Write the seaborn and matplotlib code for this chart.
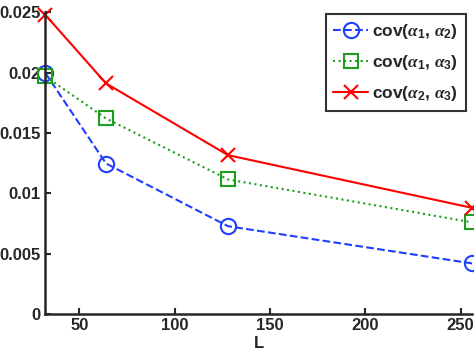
import pandas as pd
import matplotlib
matplotlib.use("Agg")
import matplotlib.pyplot as plt
import seaborn as sns

L = [32, 64, 128, 256]
cov_12 = [0.0200, 0.01247, 0.00728, 0.0042]
cov_13 = [0.0197, 0.0162, 0.01115, 0.0076]
cov_23 = [0.0248, 0.0191, 0.01316, 0.0088]

labels = [r"cov($\alpha_1$, $\alpha_2$)",
          r"cov($\alpha_1$, $\alpha_3$)",
          r"cov($\alpha_2$, $\alpha_3$)"]
y_ticks = [0, 0.005, 0.01, 0.015, 0.02, 0.025]
y_tick_labels = ["0", "0.005", "0.01", "0.015", "0.02", "0.025"]
x_ticks = [50, 100, 150, 200, 250]

sns.set_style("ticks")
plt.rcParams["font.family"] = ["Liberation Sans", "DejaVu Sans"]
plt.rcParams["font.weight"] = "bold"
plt.rcParams["mathtext.fontset"] = "custom"
plt.rcParams["mathtext.rm"] = "Liberation Sans:bold"
plt.rcParams["mathtext.it"] = "Liberation Serif:italic"

df = pd.DataFrame({"L": L * 3,
                   "cov": cov_12 + cov_13 + cov_23,
                   "pair": [labels[0]] * 4 + [labels[1]] * 4 + [labels[2]] * 4})

fig = plt.figure(figsize=(4.74, 3.57), dpi=100)
ax = fig.add_axes([0.095, 0.12, 0.901, 0.846])

styles = {
    labels[0]: dict(color="#1f3fff", ls="--", marker="o", ms=11, mfc="none", mew=1.5),
    labels[1]: dict(color="#1e9e1e", ls=":", marker="s", ms=9.5, mfc="none", mew=1.5),
    labels[2]: dict(color="#ff0000", ls="-", marker="x", ms=10, mew=1.5),
}
for name in labels:
    st = styles[name]
    sns.lineplot(data=df[df["pair"] == name], x="L", y="cov", ax=ax, label=name,
                 color=st["color"], linestyle=st["ls"], linewidth=1.5,
                 marker=st["marker"], markersize=st["ms"],
                 markerfacecolor=st.get("mfc", st["color"]),
                 markeredgecolor=st["color"], markeredgewidth=st["mew"],
                 clip_on=False)

ax.set_xlim(32, 256)
ax.set_ylim(0, 0.025)
ax.set_xticks(x_ticks)
ax.set_yticks(y_ticks)
ax.set_yticklabels(y_tick_labels)
ax.tick_params(direction="in", length=4, width=1.5, labelsize=12, pad=3)
for lab in ax.get_xticklabels() + ax.get_yticklabels():
    lab.set_fontweight("bold")
ax.set_xlabel("L", fontsize=12, fontweight="bold", labelpad=2)
ax.set_ylabel("")
sns.despine(ax=ax)
for sp in ["left", "bottom"]:
    ax.spines[sp].set_linewidth(1.8)

leg = ax.legend(loc="upper right", bbox_to_anchor=(0.986, 0.994), borderaxespad=0,
                fontsize=12.5, frameon=True, fancybox=False, edgecolor="black",
                handlelength=2.0, handletextpad=0.25, borderpad=0.45,
                labelspacing=0.7)
leg.get_frame().set_linewidth(1.5)
for t in leg.get_texts():
    t.set_fontweight("bold")

fig.savefig("out.png", dpi=100)
